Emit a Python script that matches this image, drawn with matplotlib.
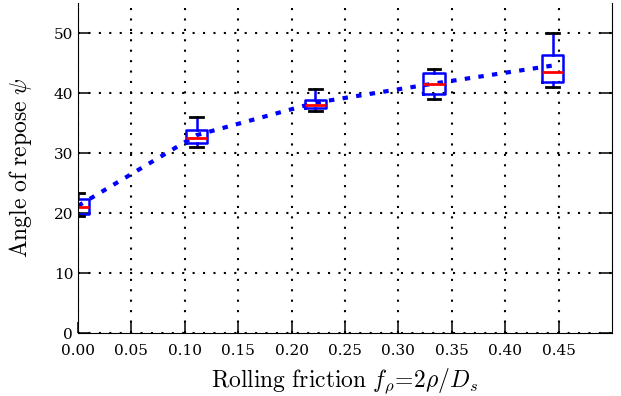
import numpy as np
import matplotlib
matplotlib.use("Agg")
import matplotlib.pyplot as plt

plt.rcParams['font.family'] = 'DejaVu Serif'
plt.rcParams['mathtext.fontset'] = 'cm'

# rolling friction values (box positions)
friction = [0.0, 1/9, 2/9, 3/9, 4/9]
# box statistics
whislo = [19.5, 31.0, 37.0, 39.1, 41.0]
q1     = [19.9, 31.7, 37.5, 39.8, 41.9]
med    = [21.0, 32.6, 38.1, 41.5, 43.5]
q3     = [22.4, 33.8, 38.9, 43.3, 46.3]
whishi = [23.4, 36.1, 40.7, 44.0, 50.1]
# mean values joined by the dotted line
means  = [21.2, 33.0, 38.4, 41.6, 44.6]

stats = []
for i in range(len(friction)):
    stats.append(dict(whislo=whislo[i], q1=q1[i], med=med[i], q3=q3[i],
                      whishi=whishi[i], fliers=[]))

fig = plt.figure(figsize=(6.21, 3.96), dpi=100)
ax = fig.add_axes([0.1256, 0.159, 0.86, 0.833])

ax.plot(friction, means, color='blue', linestyle=(0, (1.3, 2)), linewidth=3)
ax.bxp(stats, positions=friction, widths=0.02, capwidths=0.012,
       manage_ticks=False,
       boxprops=dict(color='blue', linewidth=1.8),
       whiskerprops=dict(color='blue', linewidth=1.8, linestyle='-'),
       capprops=dict(color='black', linewidth=2),
       medianprops=dict(color='red', linewidth=2))

ax.set_xlim(0, 0.5)
ax.set_ylim(0, 55)
ax.set_xticks(np.arange(0, 0.46, 0.05))
ax.set_xticklabels(['%.2f' % t for t in np.arange(0, 0.46, 0.05)])
ax.set_yticks([0, 10, 20, 30, 40, 50])
ax.tick_params(direction='in', length=8, width=1.1, labelsize=11,
               right=True, top=False)
ax.tick_params(axis='x', pad=8)
ax.spines['top'].set_visible(False)
ax.grid(True, color='black', linestyle=(0, (1, 4)), linewidth=1.5)

ax.set_xlabel(r'$\mathrm{Rolling\ friction}\ f_\rho\!=\!2\rho/D_s$', fontsize=17,
              labelpad=6)
ax.set_ylabel(r'$\mathrm{Angle\ of\ repose}\ \psi$', fontsize=17, labelpad=14)

fig.savefig('out.png', dpi=100)
